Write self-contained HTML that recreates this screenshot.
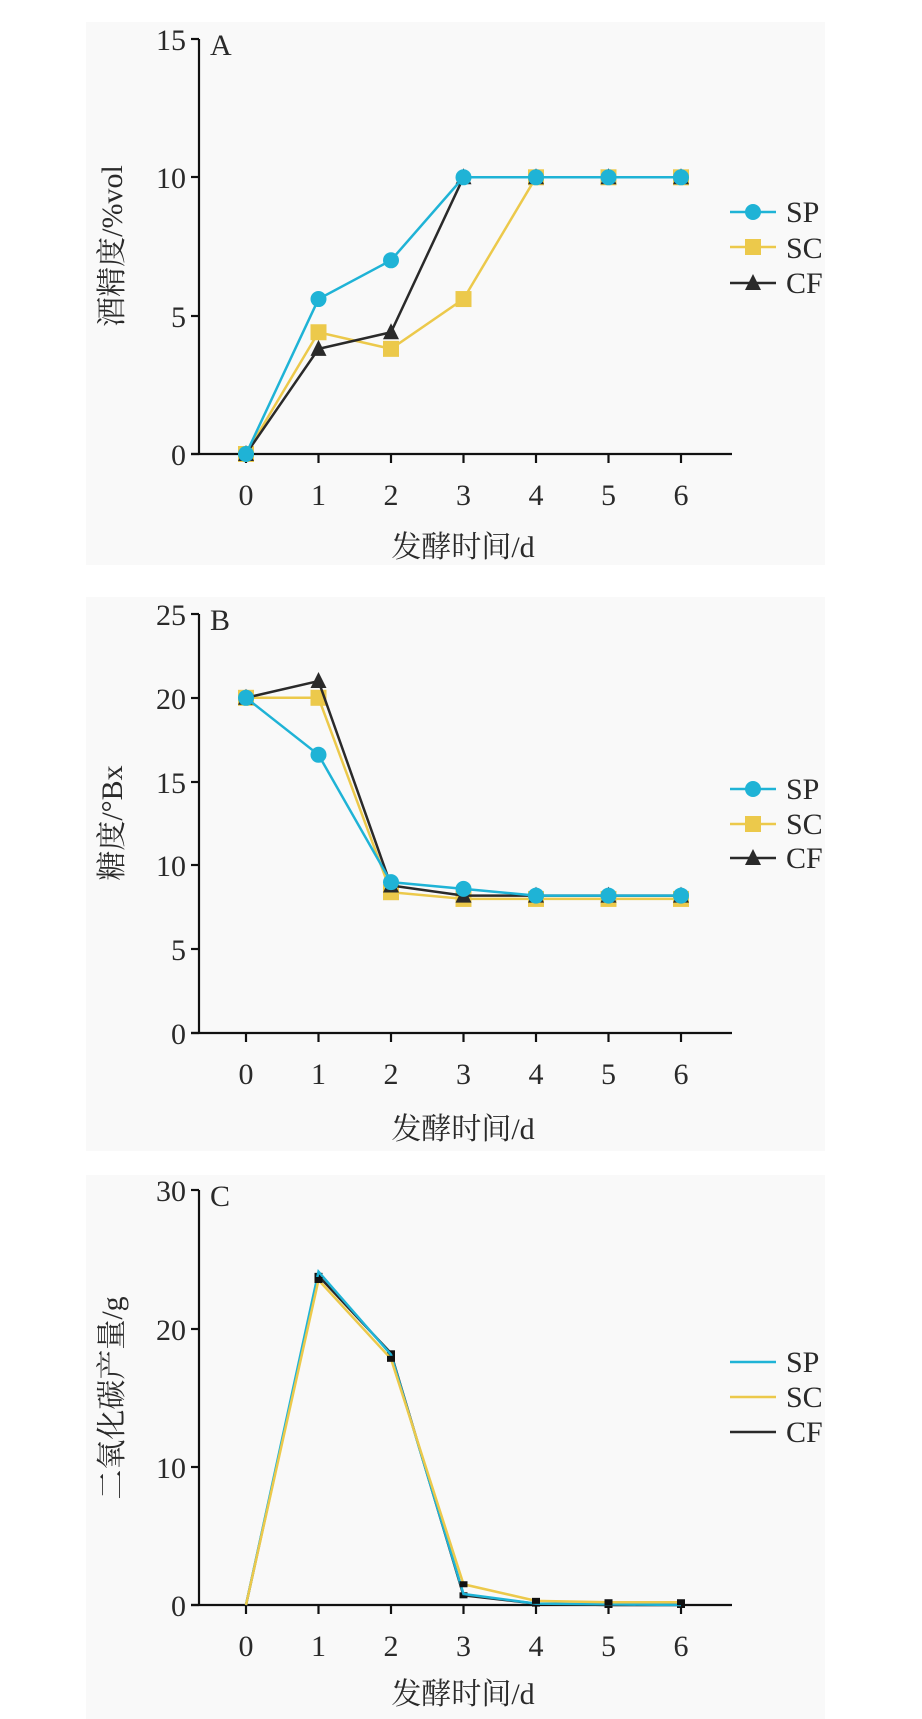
<!DOCTYPE html>
<html><head><meta charset="utf-8"><style>
body{margin:0;background:#fff}
svg{display:block}
text{font-family:"Liberation Serif","Noto Serif CJK SC",serif;fill:#2a2a2a}
</style></head><body>
<svg id="s" width="922" height="1719" xmlns="http://www.w3.org/2000/svg">
<rect x="86" y="22" width="739" height="543" fill="#f9f9f9"/>
<rect x="86" y="597" width="739" height="554" fill="#f9f9f9"/>
<rect x="86" y="1175" width="739" height="544" fill="#f9f9f9"/>
<g font-size="30" text-anchor="end">
<text x="186" y="50">15</text><text x="186" y="188">10</text><text x="186" y="327">5</text><text x="186" y="465">0</text>
<text x="186" y="625">25</text><text x="186" y="709">20</text><text x="186" y="793">15</text><text x="186" y="876">10</text><text x="186" y="960">5</text><text x="186" y="1044">0</text>
<text x="186" y="1201">30</text><text x="186" y="1340">20</text><text x="186" y="1478">10</text><text x="186" y="1616">0</text>
</g>
<g font-size="30">
<text x="210" y="55">A</text><text x="210" y="630">B</text><text x="210" y="1206">C</text>
</g>
<g font-size="30" text-anchor="middle">
<text x="463" y="557">发酵时间/d</text>
<text x="463" y="1139">发酵时间/d</text>
<text x="463" y="1704">发酵时间/d</text>
<text transform="translate(122,246) rotate(-90)">酒精度/%vol</text>
<text transform="translate(122,823) rotate(-90)">糖度/°Bx</text>
<text transform="translate(122,1398) rotate(-90)">二氧化碳产量/g</text>
</g>
<g font-size="30">
<text x="786" y="222">SP</text><text x="786" y="258">SC</text><text x="786" y="293">CF</text>
<text x="786" y="799">SP</text><text x="786" y="834">SC</text><text x="786" y="868">CF</text>
<text x="786" y="1372">SP</text><text x="786" y="1407">SC</text><text x="786" y="1442">CF</text>
</g>
</svg>
<script>
const s=document.getElementById('s'),NS='http://www.w3.org/2000/svg';
function el(t,a){const e=document.createElementNS(NS,t);for(const k in a)e.setAttribute(k,a[k]);s.appendChild(e);return e;}
const X=i=>246+72.5*i;
const B='#1fb3d6',Y='#ecc94b',K='#2a2a2a';
function axes(y0,ytop,ys){
 el('line',{x1:199,y1:ytop,x2:199,y2:y0,stroke:'#111','stroke-width':2.2});
 el('line',{x1:191,y1:y0,x2:732,y2:y0,stroke:'#111','stroke-width':2.2});
 ys.forEach(y=>el('line',{x1:191,y1:y,x2:199,y2:y,stroke:'#111','stroke-width':2.2}));
 for(let i=0;i<7;i++){el('line',{x1:X(i),y1:y0,x2:X(i),y2:y0+9,stroke:'#111','stroke-width':2.2});
  const t=el('text',{x:X(i),y:y0+51,'font-size':30,'text-anchor':'middle'});t.textContent=i;}
}
function mark(type,x,y,c){
 if(type=='c')el('circle',{cx:x,cy:y,r:8,fill:c});
 else if(type=='s')el('rect',{x:x-8,y:y-8,width:16,height:16,fill:c});
 else el('polygon',{points:`${x},${y-9} ${x-8},${y+7} ${x+8},${y+7}`,fill:c});
}
function series(d,fy,c,type,err){
 el('polyline',{points:d.map((v,i)=>X(i)+','+fy(v)).join(' '),fill:'none',stroke:c,'stroke-width':2.5});
 d.forEach((v,i)=>{if(type)mark(type,X(i),fy(v),c);if(err&&i>0){el('rect',{x:X(i)-4,y:fy(v)-3,width:8,height:6,fill:'#111'});}});
}
axes(454,39,[39,177,316,454]);
const fa=v=>454-v*27.67;
series([0,4.4,3.8,5.6,10,10,10],fa,Y,'s');
series([0,3.8,4.4,10,10,10,10],fa,K,'t');
series([0,5.6,7,10,10,10,10],fa,B,'c');
axes(1033,614,[614,698,782,865,949,1033]);
const fb=v=>1033-v*16.76;
series([20,20,8.4,8,8,8,8],fb,Y,'s');
series([20,21,8.8,8.2,8.2,8.2,8.2],fb,K,'t');
series([20,16.6,9,8.6,8.2,8.2,8.2],fb,B,'c');
axes(1605,1190,[1190,1329,1467,1605]);
const fc=v=>1605-v*13.83;
series([0,23.8,18.2,0.7,0.1,0,0],fc,K,null,true);
series([0,24.1,18.1,0.8,0.1,0.05,0],fc,B,null,false);
series([0,23.5,17.8,1.5,0.3,0.2,0.2],fc,Y,null,true);
function leg(y,c,t){el('line',{x1:730,y1:y,x2:776,y2:y,stroke:c,'stroke-width':2.5});if(t)mark(t,753,y,c);}
leg(212,B,'c');leg(247,Y,'s');leg(283,K,'t');
leg(789,B,'c');leg(824,Y,'s');leg(858,K,'t');
leg(1362,B);leg(1397,Y);leg(1432,K);
</script>
</body></html>
